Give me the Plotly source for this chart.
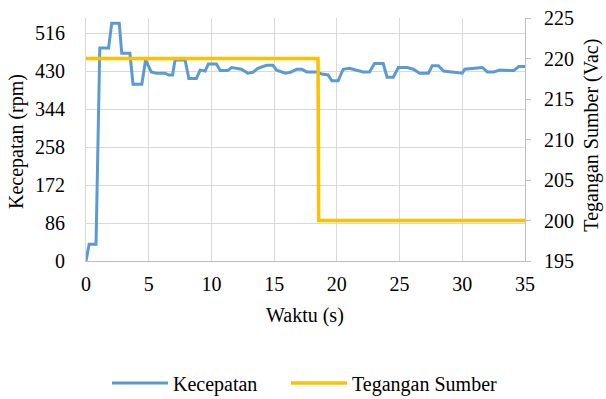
import plotly.graph_objects as go

# Kecepatan (rpm) readings vs time (s)
waktu_kec = [0, 0.25, 0.8, 1.1, 1.8, 2.05, 2.65, 2.85, 3.5, 3.75, 4.45, 4.75, 5.2, 5.6,
             6.3, 6.6, 6.9, 7.1, 7.9, 8.2, 8.8, 9.1, 9.5, 9.75, 10.4, 10.7, 11.3, 11.6,
             12.4, 12.9, 13.3, 13.7, 14.4, 14.9, 15.2, 15.9, 16.3, 16.8, 17.2, 17.6,
             18.4, 18.8, 19.3, 19.6, 20.1, 20.5, 21.0, 21.6, 22.1, 22.6, 23.0, 23.7,
             24.0, 24.5, 24.9, 25.6, 26.1, 26.6, 27.3, 27.6, 28.1, 28.5, 29.0, 29.6,
             30.0, 30.2, 30.9, 31.6, 32.0, 32.5, 33.0, 34.1, 34.5, 35.0]
kecepatan = [0, 38, 38, 482, 482, 538, 538, 470, 470, 400, 400, 455, 428, 425,
             425, 421, 421, 455, 455, 413, 413, 432, 430, 446, 446, 431, 431, 438,
             434, 425, 427, 436, 443, 443, 432, 425, 427, 434, 434, 428,
             428, 423, 421, 408, 408, 434, 436, 431, 428, 428, 447, 447,
             416, 416, 438, 438, 434, 425, 425, 442, 442, 430, 428, 425,
             425, 434, 436, 438, 428, 428, 432, 431, 440, 440]

# Tegangan Sumber (Vac)
waktu_teg = [0, 18.5, 18.55, 35]
tegangan = [220, 220, 200, 200]

left_ticks = [0, 86, 172, 258, 344, 430, 516]
x_ticks = [0, 5, 10, 15, 20, 25, 30, 35]

assert len(waktu_kec) == len(kecepatan)

FONT = "Liberation Serif"
GRID = "#d9d9d9"
AXIS = "#bfbfbf"

fig = go.Figure()
fig.add_trace(go.Scatter(x=waktu_kec, y=kecepatan, mode="lines", name="Kecepatan",
                         line=dict(color="#5B9BD5", width=3), legend="legend"))
fig.add_trace(go.Scatter(x=waktu_teg, y=tegangan, mode="lines", name="Tegangan Sumber",
                         yaxis="y2", line=dict(color="#FFC000", width=3.5),
                         legend="legend2"))

legend_style = dict(orientation="h", xanchor="left", yref="container", y=0.04,
                    yanchor="middle", font=dict(size=20), itemwidth=56,
                    bgcolor="rgba(0,0,0,0)", borderwidth=0)

fig.update_layout(
    template="none",
    width=606, height=399,
    margin=dict(l=86, r=81, t=18, b=138, autoexpand=False),
    paper_bgcolor="white", plot_bgcolor="white",
    font=dict(family=FONT, size=20, color="black"),
    xaxis=dict(range=[0, 35], tickvals=x_ticks, showgrid=True, gridcolor=GRID,
               gridwidth=1, showline=True, linecolor=AXIS, linewidth=1, zeroline=False,
               ticks="", ticklabelstandoff=5, automargin=False),
    yaxis=dict(range=[0, 550], tickvals=left_ticks, showgrid=True, gridcolor=GRID,
               gridwidth=1, showline=True, linecolor=GRID, zeroline=False, ticks="",
               ticklabelstandoff=16, automargin=False),
    yaxis2=dict(range=[195, 225], dtick=5, overlaying="y", side="right", anchor="x",
                showgrid=False, showline=True, linecolor=AXIS, zeroline=False,
                ticks="outside", ticklen=5, tickcolor=AXIS, tickwidth=1,
                ticklabelstandoff=9, automargin=False),
    showlegend=True,
    legend=dict(x=0.0478, **legend_style),
    legend2=dict(x=0.4556, **legend_style),
    annotations=[
        dict(text="Waktu (s)", xref="paper", yref="paper", x=0.499, y=-0.2263,
             xanchor="center", yanchor="middle", showarrow=False, font=dict(size=20)),
        dict(text="Kecepatan (rpm)", xref="paper", yref="paper", x=-0.157, y=0.49,
             xanchor="center", yanchor="middle", textangle=-90, showarrow=False,
             font=dict(size=20)),
        dict(text="Tegangan Sumber (Vac)", xref="paper", yref="paper", x=1.1526, y=0.52,
             xanchor="center", yanchor="middle", textangle=-90, showarrow=False,
             font=dict(size=20)),
    ],
)

# Remove the browser's default 8px body margin so the figure sits at the page origin.
fig.write_html("out.html", config={"displayModeBar": False},
               post_script="document.body.style.margin='0';")
